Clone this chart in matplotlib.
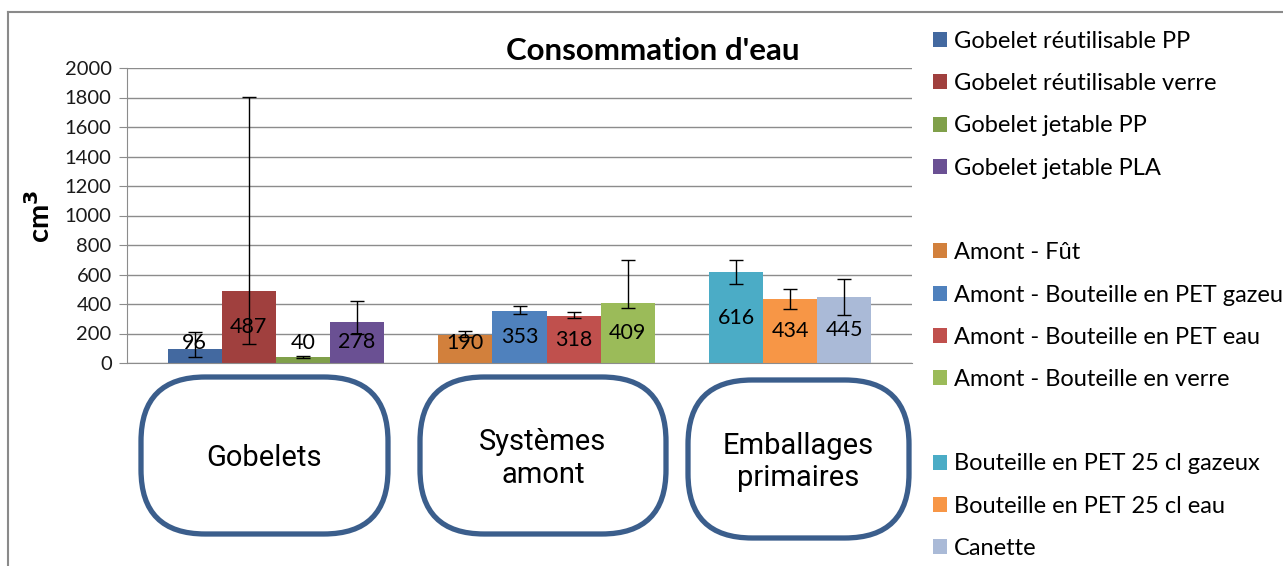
import matplotlib
matplotlib.use("Agg")
import matplotlib.pyplot as plt
from matplotlib.patches import FancyBboxPatch, Rectangle
from matplotlib.lines import Line2D

# ---------------- data ----------------
series_names = [
    "Gobelet réutilisable PP", "Gobelet réutilisable verre", "Gobelet jetable PP",
    "Gobelet jetable PLA",
    "Amont - Fût", "Amont - Bouteille en PET gazeux", "Amont - Bouteille en PET eau",
    "Amont - Bouteille en verre",
    "Bouteille en PET 25 cl gazeux", "Bouteille en PET 25 cl eau", "Canette",
]
series_group = [0, 0, 0, 0, 1, 1, 1, 1, 2, 2, 2]
values = [96, 487, 40, 278, 190, 353, 318, 409, 616, 434, 445]
err_upper = [212, 1803, 45, 422, 218, 386, 344, 696, 696, 500, 572]
err_lower = [43, 131, 36, 200, 178, 332, 305, 375, 536, 364, 325]
group_names = ["Gobelets", "Systèmes\namont", "Emballages\nprimaires"]
y_ticks = [0, 200, 400, 600, 800, 1000, 1200, 1400, 1600, 1800, 2000]
title = "Consommation d'eau"
y_label = "cm$^{\\mathbf{3}}$"

colors = ["#4369A0", "#A0403E", "#80A04A", "#6A5093",
          "#D2803C", "#4F81BD", "#C0504D", "#9BBB59",
          "#4BACC6", "#F79646", "#AABAD7"]

# ---------------- figure ----------------
W, H = 1283, 566
fig = plt.figure(figsize=(W / 100, H / 100), dpi=100)
FONT = ["Lato", "DejaVu Sans"]
plt.rcParams["font.family"] = FONT

def fx(px):
    return px / W

def fy(py):
    return 1 - py / H

ax = fig.add_axes([fx(127), fy(363), fx(912) - fx(127), fy(68) - fy(363)])

# x positions: one slot per bar, one empty slot between groups
positions = []
slot = 0
prev = series_group[0]
for g in series_group:
    if g != prev:
        slot += 1
        prev = g
    positions.append(slot)
    slot += 1

for i, (x, v) in enumerate(zip(positions, values)):
    ax.bar(x, v, width=1.0, color=colors[i], edgecolor="none", zorder=2,
           label=series_names[i])
    ax.errorbar(x, v, yerr=[[v - err_lower[i]], [err_upper[i] - v]], fmt="none",
                ecolor="black", elinewidth=1.0, capsize=5, capthick=1.0, zorder=4)
    ax.text(x, max(v / 2, 138), str(v), ha="center", va="center",
            fontsize=15.5, color="black", zorder=5)

ax.set_xlim(positions[0] - 1.25, positions[-1] + 1.25)
ax.set_ylim(0, 2000)
ax.set_yticks(y_ticks)
ax.set_yticklabels([str(t) for t in y_ticks], fontsize=14.5)
ax.set_xticks([])
ax.yaxis.grid(True, color="#8C8C8C", linewidth=1.0, zorder=0)
ax.set_axisbelow(True)
for s in ["top", "right"]:
    ax.spines[s].set_visible(False)
ax.spines["left"].set_color("#8C8C8C")
ax.spines["bottom"].set_color("#8C8C8C")
ax.tick_params(axis="y", length=6, color="#8C8C8C", pad=5, labelcolor="#1a1a1a")
ax.set_title(title, fontsize=22.5, fontweight="bold", x=0.67, pad=6)

fig.text(fx(40), fy(216), y_label, rotation=90, ha="center", va="center",
         fontsize=21, fontweight="bold")

# outer frame lines
fig.add_artist(Line2D([fx(8), fx(8)], [0, fy(12)], color="#8A8A8A", lw=1.5))
fig.add_artist(Line2D([fx(8), 1], [fy(12), fy(12)], color="#8A8A8A", lw=1.5))

# group boxes
boxes = [(139, 375, 390, 536), (418, 375, 668, 536), (686, 378, 911, 540)]
for (x0, y0, x1, y1), name in zip(boxes, group_names):
    p = FancyBboxPatch((fx(x0 + 2), fy(y1 - 2)), fx(x1 - x0 - 4), fy(0) - fy(y1 - y0 - 4),
                       boxstyle="round,pad=0,rounding_size=0.05", transform=fig.transFigure,
                       facecolor="white", edgecolor="#3B5E8C", linewidth=3.8,
                       mutation_aspect=W / H)
    fig.add_artist(p)
    fig.text(fx((x0 + x1) / 2), fy((y0 + y1) / 2 + 3), name, ha="center", va="center",
             fontsize=21, linespacing=1.2, family=["Roboto", "DejaVu Sans"])

# legend with blank rows between groups
handles = []
labels = []
prev = series_group[0]
for i, name in enumerate(series_names):
    if series_group[i] != prev:
        handles.append(Rectangle((0, 0), 1, 1, facecolor="none", edgecolor="none"))
        labels.append(" ")
        prev = series_group[i]
    handles.append(Rectangle((0, 0), 1, 1, facecolor=colors[i], edgecolor="none"))
    labels.append(name)
leg = fig.legend(handles, labels, loc="upper left", bbox_to_anchor=(fx(933), fy(31)),
                 frameon=False, fontsize=17, handlelength=0.6, handleheight=0.6,
                 handletextpad=0.3, labelspacing=0.90, borderpad=0, borderaxespad=0)

fig.savefig("out.png", dpi=100)
